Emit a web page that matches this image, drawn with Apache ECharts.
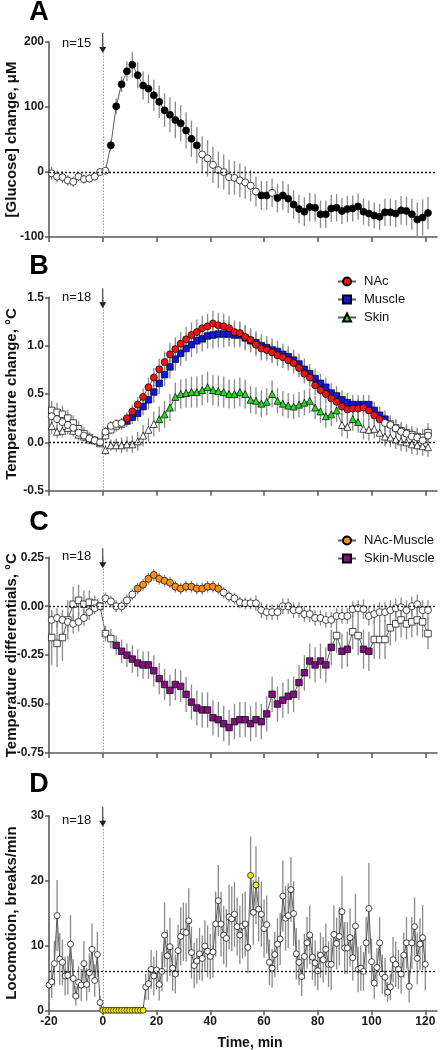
<!DOCTYPE html>
<html><head><meta charset="utf-8">
<script src="https://cdn.jsdelivr.net/npm/echarts@6/dist/echarts.min.js"></script>
<style>html,body{margin:0;padding:0;background:#fff}#c{width:441px;height:1050px}</style>
</head><body><div id="c"></div>
<script>
// ---------- DATA ----------
const xTicks = [-20, 0, 20, 40, 60, 80, 100, 120];
const times2 = [-19,-17,-15,-13,-11,-9,-7,-5,-3,-1,1,3,5,7,9,11,13,15,17,19,21,23,25,27,29,31,33,35,37,39,41,43,45,47,49,51,53,55,57,59,61,63,65,67,69,71,73,75,77,79,81,83,85,87,89,91,93,95,97,99,101,103,105,107,109,111,113,115,117,119,121];
const times1 = [-20,-19,-18,-17,-16,-15,-14,-13,-12,-11,-10,-9,-8,-7,-6,-5,-4,-3,-2,-1,0,1,2,3,4,5,6,7,8,9,10,11,12,13,14,15,16,17,18,19,20,21,22,23,24,25,26,27,28,29,30,31,32,33,34,35,36,37,38,39,40,41,42,43,44,45,46,47,48,49,50,51,52,53,54,55,56,57,58,59,60,61,62,63,64,65,66,67,68,69,70,71,72,73,74,75,76,77,78,79,80,81,82,83,84,85,86,87,88,89,90,91,92,93,94,95,96,97,98,99,100,101,102,103,104,105,106,107,108,109,110,111,112,113,114,115,116,117,118,119,120];

// Panel A: glucose (uM)
const glucose = [-2,-7,-8,-13,-15,-7,-11,-10,-7,0,2,41,101,135,155,165,149,133,128,118,108,95,88,80,75,64,51,41,27,21,11,3,0,-8,-9,-13,-16,-21,-30,-36,-36,-32,-40,-36,-41,-50,-57,-61,-54,-55,-65,-65,-56,-55,-60,-57,-56,-53,-61,-64,-67,-69,-62,-62,-64,-59,-60,-65,-73,-70,-63];
const glucoseErr = [10,9,9,8,8,7,7,6,6,5,5,8,12,12,15,20,20,22,22,24,25,26,27,28,28,28,28,28,28,28,28,28,27,27,26,26,25,24,23,22,22,22,22,22,22,22,22,22,22,21,21,21,21,21,20,20,20,20,20,20,20,20,21,21,21,22,22,24,26,28,25];
const glucoseSig = [[3,35],[59,61],[65,121]];

// Panel B: temperature change (deg C)
const nac = [0.27,0.24,0.21,0.18,0.15,0.10,0.07,0.04,0.02,0.00,0.11,0.17,0.19,0.20,0.25,0.32,0.39,0.47,0.57,0.67,0.755,0.83,0.91,0.965,1.02,1.065,1.11,1.14,1.18,1.20,1.23,1.21,1.20,1.18,1.14,1.13,1.09,1.06,1.01,0.97,0.955,0.93,0.90,0.88,0.85,0.82,0.77,0.71,0.67,0.59,0.54,0.50,0.455,0.42,0.37,0.34,0.35,0.35,0.36,0.33,0.28,0.24,0.20,0.18,0.145,0.11,0.09,0.06,0.05,0.02,0.07];
const nacErr = [0.09,0.09,0.08,0.08,0.07,0.07,0.06,0.05,0.04,0.03,0.05,0.05,0.05,0.05,0.06,0.07,0.08,0.09,0.10,0.10,0.11,0.11,0.12,0.12,0.12,0.13,0.13,0.13,0.13,0.13,0.13,0.13,0.13,0.13,0.12,0.12,0.12,0.12,0.12,0.12,0.11,0.11,0.11,0.11,0.11,0.11,0.10,0.10,0.10,0.10,0.10,0.10,0.10,0.10,0.10,0.10,0.10,0.10,0.10,0.10,0.09,0.09,0.09,0.09,0.09,0.08,0.08,0.08,0.08,0.08,0.08];
const nacSig = [[9,103]];
const muscle = [0.33,0.31,0.29,0.25,0.20,0.14,0.09,0.05,0.02,0.00,0.07,0.13,0.17,0.19,0.22,0.26,0.30,0.37,0.44,0.52,0.61,0.70,0.78,0.86,0.92,0.97,1.01,1.05,1.07,1.10,1.11,1.12,1.12,1.12,1.11,1.11,1.08,1.05,1.03,1.00,0.98,0.955,0.94,0.91,0.885,0.85,0.81,0.755,0.71,0.66,0.61,0.57,0.51,0.48,0.44,0.41,0.39,0.39,0.39,0.39,0.33,0.28,0.24,0.19,0.15,0.12,0.10,0.08,0.06,0.05,0.10];
const muscleErr = [0.10,0.10,0.09,0.09,0.08,0.08,0.07,0.06,0.04,0.03,0.05,0.05,0.06,0.06,0.06,0.07,0.08,0.09,0.10,0.11,0.11,0.12,0.12,0.12,0.13,0.13,0.13,0.13,0.13,0.13,0.14,0.14,0.14,0.13,0.13,0.13,0.13,0.12,0.12,0.12,0.12,0.12,0.11,0.11,0.11,0.11,0.11,0.11,0.10,0.10,0.10,0.10,0.10,0.10,0.10,0.10,0.10,0.10,0.10,0.10,0.09,0.09,0.09,0.09,0.09,0.09,0.09,0.09,0.09,0.09,0.10];
const muscleSig = [[9,105]];
const skin = [0.17,0.11,0.12,0.15,0.12,0.08,0.06,0.03,0.02,-0.01,-0.08,-0.03,-0.03,-0.03,-0.02,-0.02,0.01,0.07,0.13,0.19,0.24,0.29,0.36,0.47,0.50,0.51,0.52,0.52,0.54,0.57,0.54,0.53,0.52,0.50,0.50,0.52,0.50,0.44,0.43,0.40,0.42,0.50,0.43,0.40,0.38,0.37,0.39,0.41,0.43,0.36,0.32,0.27,0.29,0.33,0.18,0.16,0.24,0.21,0.14,0.13,0.14,0.10,0.06,0.05,0.03,0.01,0.00,-0.02,-0.03,-0.04,-0.05];
const skinErr = [0.08,0.07,0.07,0.07,0.06,0.06,0.05,0.05,0.04,0.03,0.05,0.06,0.07,0.08,0.08,0.09,0.10,0.11,0.12,0.13,0.13,0.14,0.14,0.15,0.15,0.15,0.16,0.16,0.16,0.16,0.16,0.16,0.16,0.15,0.15,0.15,0.15,0.14,0.14,0.14,0.14,0.14,0.13,0.13,0.13,0.13,0.13,0.13,0.13,0.12,0.12,0.12,0.12,0.12,0.12,0.12,0.12,0.11,0.11,0.11,0.10,0.10,0.10,0.10,0.10,0.10,0.10,0.10,0.10,0.10,0.10];
const skinSig = [[21,87],[93,95]];

// Panel C: temperature differentials (deg C)
const nacMuscle = [-0.07,-0.06,-0.07,-0.08,-0.09,-0.08,-0.06,-0.03,-0.01,0.00,0.04,0.025,0.00,0.00,0.03,0.06,0.09,0.11,0.14,0.16,0.14,0.13,0.12,0.10,0.09,0.10,0.10,0.09,0.09,0.10,0.10,0.09,0.07,0.05,0.04,0.02,0.015,0.015,0.015,-0.02,-0.03,-0.03,-0.03,0.00,0.00,-0.02,-0.02,-0.04,-0.04,-0.06,-0.06,-0.07,-0.07,-0.05,-0.05,-0.05,-0.015,-0.01,-0.015,-0.05,-0.04,-0.03,-0.03,-0.02,-0.01,-0.005,-0.02,0.00,0.01,-0.02,-0.02];
const nacMuscleErr = [0.05,0.05,0.05,0.05,0.05,0.05,0.04,0.04,0.03,0.02,0.03,0.03,0.03,0.03,0.03,0.03,0.03,0.03,0.03,0.03,0.03,0.03,0.03,0.03,0.03,0.03,0.03,0.03,0.03,0.03,0.03,0.03,0.03,0.03,0.03,0.03,0.03,0.03,0.04,0.04,0.04,0.04,0.04,0.04,0.04,0.04,0.04,0.04,0.04,0.04,0.04,0.04,0.04,0.04,0.04,0.04,0.04,0.04,0.05,0.05,0.05,0.05,0.05,0.05,0.05,0.05,0.05,0.05,0.05,0.05,0.05];
const nacMuscleSig = [[13,43]];
const skinMuscle = [-0.16,-0.19,-0.16,-0.07,0.01,0.03,0.01,0.02,0.015,0.00,-0.14,-0.165,-0.20,-0.23,-0.25,-0.27,-0.29,-0.30,-0.30,-0.33,-0.37,-0.40,-0.43,-0.40,-0.41,-0.45,-0.49,-0.52,-0.53,-0.53,-0.57,-0.58,-0.60,-0.62,-0.59,-0.58,-0.58,-0.60,-0.58,-0.59,-0.55,-0.45,-0.50,-0.48,-0.46,-0.45,-0.39,-0.34,-0.28,-0.30,-0.28,-0.30,-0.21,-0.15,-0.23,-0.22,-0.13,-0.15,-0.22,-0.23,-0.17,-0.17,-0.17,-0.11,-0.09,-0.07,-0.09,-0.08,-0.07,-0.08,-0.14];
const skinMuscleErr = [0.14,0.12,0.12,0.10,0.09,0.08,0.07,0.06,0.04,0.02,0.04,0.05,0.05,0.06,0.06,0.07,0.07,0.07,0.07,0.08,0.08,0.08,0.08,0.08,0.08,0.09,0.09,0.09,0.09,0.09,0.09,0.09,0.09,0.09,0.09,0.09,0.09,0.09,0.09,0.09,0.09,0.09,0.09,0.09,0.09,0.09,0.09,0.09,0.09,0.09,0.09,0.09,0.09,0.09,0.09,0.09,0.09,0.10,0.10,0.10,0.10,0.10,0.10,0.09,0.09,0.09,0.08,0.08,0.08,0.08,0.08];
const skinMuscleSig = [[5,85],[89,91],[97,99]];

// Panel D: locomotion (breaks/min)
const loco = [3.9,4.4,7.2,14.6,7.9,7.4,5.3,5.4,10.2,4.9,2.2,4.3,3.9,7.2,4.0,5.8,9.4,4.6,8.6,1.2,0,0,0,0,0,0,0,0,0,0,0,0,0,0,0,0,3.6,4.1,6.3,5.3,6.2,4.0,6.0,11.6,8.4,9.8,6.5,5.6,9.2,11.4,12.1,12.0,13.8,8.9,6.9,7.6,8.7,8.0,9.9,9.1,8.3,9.0,13.3,16.9,13.3,11.6,11.1,14.4,14.1,14.8,12.9,11.6,13.0,13.3,9.7,20.8,15.1,19.3,15.6,14.8,12.6,13.2,7.4,6.5,8.6,10.2,11.0,17.6,14.2,14.6,18.6,14.9,8.7,7.4,5.2,8.3,10.4,11.6,8.2,7.3,6.1,8.5,7.8,9.4,7.1,7.1,11.7,10.3,11.4,15.2,9.6,9.6,11.2,8.1,13.0,6.3,6.5,6.0,10.4,15.7,7.5,4.2,6.6,10.4,5.6,5.1,2.8,3.6,7.8,7.1,6.3,5.6,8.5,10.4,3.7,10.4,12.9,8.0,10.2,11.2,7.1];
const locoErr = [2.5,2.5,3.5,5.5,4,3.5,3,3,4.5,3,1.5,2.5,2.5,3.5,2.5,3,4,2.5,3.5,1,0,0,0,0,0,0,0,0,0,0,0,0,0,0,0,0,2,2.5,3,3,3,2.5,3,5,4,4.5,3.5,3,4,4.5,4.5,4.5,5,4,3.5,3.5,4,3.5,4,4,3.5,4,5,5.5,5,4.5,4.5,5,5,5,4.5,4.5,5,5,4,6,5,6,5,5,4.5,4.5,3.5,3,3.5,4,4,5.5,5,5,5,5,4,3.5,3,3.5,4,4.5,3.5,3.5,3,3.5,3.5,4,3.5,4,4.5,4,4.5,5.5,4,4,4.5,3.5,5,3.5,3.5,3,4,7,3.5,2.5,3,4,3,3,1.5,2,3.5,3.5,3,3,3.5,4,2.5,4,4.5,4,4,5,4];
const locoSig = [[0,15],[55,55],[57,57]];
const locoBaseline = 6;

// ---------- CHART ----------
const FONT = '"Liberation Sans", Arial, Helvetica, sans-serif';
const AX = '#5a5a5a';
const gridBox = [
  [42, 195], [297.3, 193.4], [557.3, 195.7], [815.7, 194.6]
];
const grids = gridBox.map(([top, height]) => ({left: 49, top, width: 388, height, containLabel: false, outerBoundsMode: 'none'}));
const inR = (t, rs) => rs.some(r => t >= r[0] && t <= r[1]);
const ARROW = 'path://M3,0 L4,0 L4,14 L7,14 L3.5,20 L0,14 L3,14 Z';

function errSeries(g, xs, ys, es) {
  return {
    type: 'custom', xAxisIndex: g, yAxisIndex: g, silent: true, z: 1,
    data: xs.map((t, i) => [t, ys[i] - es[i], ys[i] + es[i]]),
    renderItem: (params, api) => {
      const lo = api.value(1), hi = api.value(2);
      if (hi - lo <= 0) return null;
      const a = api.coord([api.value(0), lo]), b = api.coord([api.value(0), hi]);
      return {type: 'line', shape: {x1: a[0], y1: a[1], x2: b[0], y2: b[1]},
        style: {stroke: '#8a8a8a', lineWidth: 1.3}};
    }
  };
}
function lineSeries(g, name, xs, ys, sig, color, symbol, size, z, extra) {
  return Object.assign({
    type: 'line', name, xAxisIndex: g, yAxisIndex: g, z, clip: false,
    showAllSymbol: true, symbol, symbolSize: size,
    lineStyle: {color: '#5c5c5c', width: 1},
    itemStyle: {color, borderColor: '#000', borderWidth: 0.7},
    data: xs.map((t, i) => ({value: [t, ys[i]], itemStyle: {color: inR(t, sig) ? color : '#fff'}}))
  }, extra || {});
}
function markers(g, yRef, yTop) {
  return {
    markLine: {silent: true, symbol: 'none', label: {show: false}, animation: false,
      data: [
        {yAxis: yRef, lineStyle: {type: [2, 2], color: '#111', width: 1.3}},
        {xAxis: 0, lineStyle: {type: [1.5, 1.5], color: '#9a9a9a', width: 1}}
      ]},
    markPoint: {silent: true, animation: false, symbol: ARROW, symbolSize: [7, 20], symbolKeepAspect: false,
      symbolOffset: [0, 1], itemStyle: {color: '#222', borderWidth: 0}, label: {show: false},
      data: [{coord: [0, yTop]}]}
  };
}

const series = [
  errSeries(0, times2, glucose, glucoseErr),
  lineSeries(0, 'Glucose', times2, glucose, glucoseSig, '#000', 'circle', 7, 3, markers(0, 0, 200)),

  errSeries(1, times2, skin, skinErr),
  errSeries(1, times2, muscle, muscleErr),
  errSeries(1, times2, nac, nacErr),
  lineSeries(1, 'Skin', times2, skin, skinSig, '#22dd22', 'triangle', 7, 3, markers(1, 0, 1.5)),
  lineSeries(1, 'Muscle', times2, muscle, muscleSig, '#0b18e0', 'rect', 6.5, 4),
  lineSeries(1, 'NAc', times2, nac, nacSig, '#f01414', 'circle', 7, 5),

  errSeries(2, times2, skinMuscle, skinMuscleErr),
  errSeries(2, times2, nacMuscle, nacMuscleErr),
  lineSeries(2, 'Skin-Muscle', times2, skinMuscle, skinMuscleSig, '#80107f', 'rect', 6.5, 3, markers(2, 0, 0.25)),
  lineSeries(2, 'NAc-Muscle', times2, nacMuscle, nacMuscleSig, '#f7901e', 'circle', 7, 4),

  errSeries(3, times1, loco, locoErr),
  lineSeries(3, 'Locomotion', times1, loco, locoSig, '#f5ec12', 'circle', 6, 3, markers(3, locoBaseline, 30))
];

const yNames = ['[Glucose] change, μM', 'Temperature change, °C', 'Temperature differentials, °C', 'Locomotion, breaks/min'];
const yCfg = [
  {min: -100, max: 200, interval: 100, fmt: v => String(v)},
  {min: -0.5, max: 1.5, interval: 0.5, fmt: v => v.toFixed(1)},
  {min: -0.75, max: 0.25, interval: 0.25, fmt: v => v.toFixed(2)},
  {min: 0, max: 30, interval: 10, fmt: v => String(v)}
];

const option = {
  animation: false,
  textStyle: {fontFamily: FONT},
  grid: grids,
  xAxis: [0, 1, 2, 3].map(i => ({
    type: 'value', gridIndex: i, min: -20, max: 124.35,
    axisLine: {show: true, onZero: false, lineStyle: {color: AX, width: 1.6}},
    axisTick: {show: true, customValues: xTicks, length: 5, lineStyle: {color: AX, width: 1.5}},
    axisLabel: {show: i === 3, customValues: xTicks, margin: 5, fontSize: 12, fontWeight: 'bold', color: '#1a1a1a', fontFamily: FONT},
    splitLine: {show: false}
  })),
  yAxis: [0, 1, 2, 3].map(i => ({
    type: 'value', gridIndex: i, min: yCfg[i].min, max: yCfg[i].max, interval: yCfg[i].interval,
    name: yNames[i], nameLocation: 'middle', nameGap: 30, nameMoveOverlap: false,
    nameTextStyle: {fontSize: 15, fontWeight: 'bold', color: '#111', fontFamily: FONT},
    axisLine: {show: true, onZero: false, lineStyle: {color: AX, width: 1.6}},
    axisTick: {show: true, length: 4, lineStyle: {color: AX, width: 1.5}},
    axisLabel: {margin: 5, fontSize: 12, fontWeight: 'bold', color: '#1a1a1a', fontFamily: FONT, formatter: yCfg[i].fmt},
    splitLine: {show: false}
  })),
  legend: [
    {data: ['NAc', 'Muscle', 'Skin'], orient: 'vertical', left: 332, top: 270, itemWidth: 18, itemHeight: 10, itemGap: 5,
     textStyle: {fontSize: 13, color: '#111', fontFamily: FONT, padding: [0, 0, 0, 3]}},
    {data: ['NAc-Muscle', 'Skin-Muscle'], orient: 'vertical', left: 332, top: 529, itemWidth: 18, itemHeight: 10, itemGap: 5,
     textStyle: {fontSize: 13, color: '#111', fontFamily: FONT, padding: [0, 0, 0, 3]}}
  ],
  graphic: [
    ...[['A', 12.5], ['B', 266.5], ['C', 523], ['D', 785]].map(([t, y]) => ({
      type: 'text', x: 39, y, style: {text: t, font: 'bold 27px ' + FONT, fill: '#000', textAlign: 'center', textVerticalAlign: 'middle'}})),
    ...[['n=15', 43.5], ['n=18', 297], ['n=18', 556], ['n=18', 820]].map(([t, y]) => ({
      type: 'text', x: 62, y, style: {text: t, font: '13px ' + FONT, fill: '#111', textAlign: 'left', textVerticalAlign: 'middle'}})),
    {type: 'text', x: 250, y: 1043, style: {text: 'Time, min', font: 'bold 14px ' + FONT, fill: '#111', textAlign: 'center', textVerticalAlign: 'middle'}}
  ],
  series
};
const chart = echarts.init(document.getElementById('c'), null, {renderer: 'canvas'});
chart.setOption(option);
</script>
</body></html>
